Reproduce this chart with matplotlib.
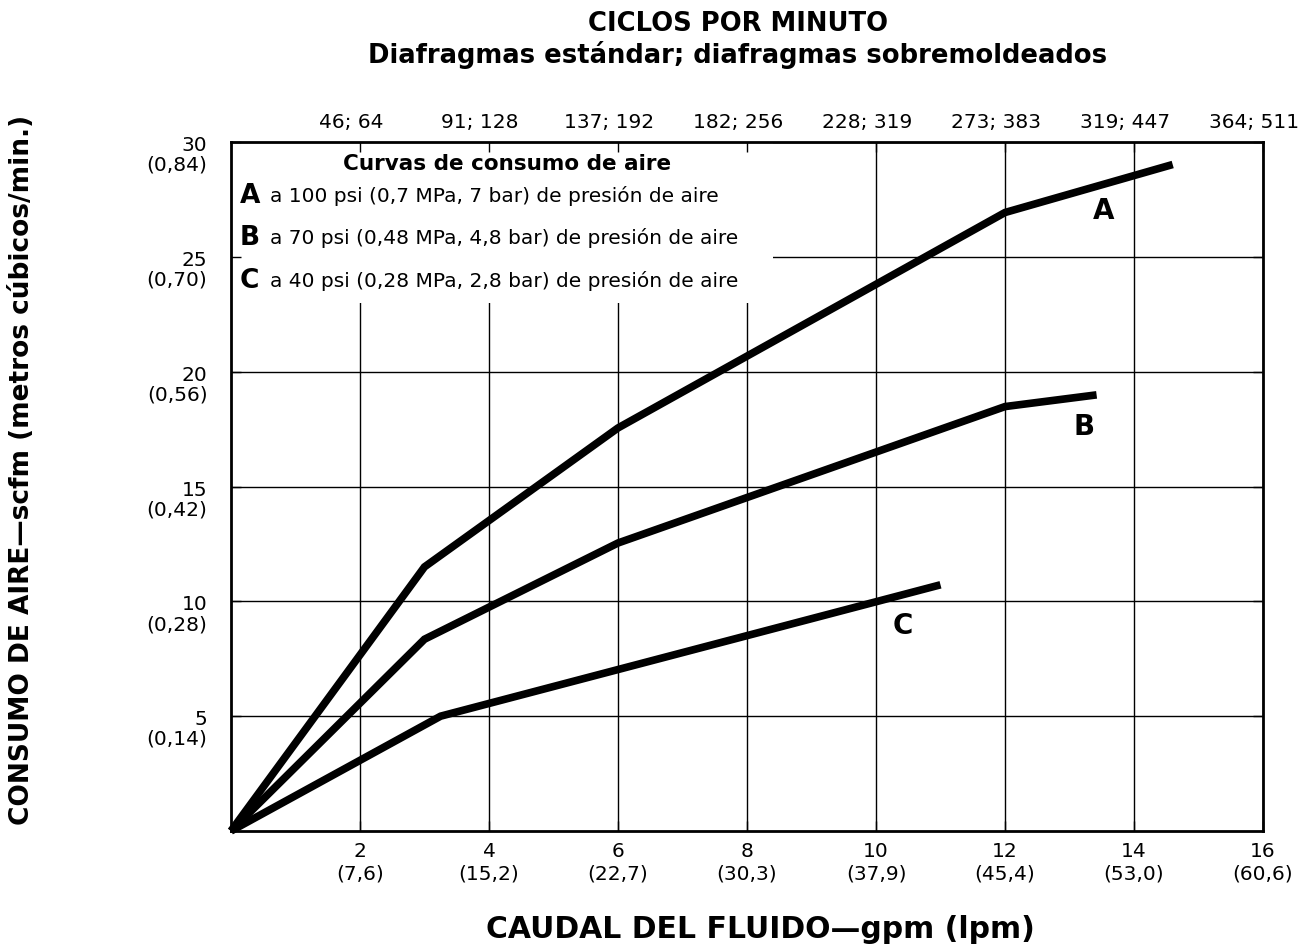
import matplotlib
matplotlib.use("Agg")
import matplotlib.pyplot as plt
from matplotlib.patches import Rectangle
from matplotlib.transforms import ScaledTranslation

plt.rcParams['font.family'] = ['DejaVu Sans']

# ---- data ----
curve_a_x = [0, 3.0, 6.0, 12.0, 14.6]
curve_a_y = [0, 11.5, 17.55, 26.93, 29.02]
curve_b_x = [0, 3.0, 6.0, 12.0, 13.42]
curve_b_y = [0, 8.35, 12.54, 18.48, 18.99]
curve_c_x = [0, 3.25, 11.0]
curve_c_y = [0, 5.0, 10.72]

x_ticks = [2, 4, 6, 8, 10, 12, 14, 16]
x_labels = ['2\n(7,6)', '4\n(15,2)', '6\n(22,7)', '8\n(30,3)', '10\n(37,9)',
            '12\n(45,4)', '14\n(53,0)', '16\n(60,6)']
top_labels = ['46; 64', '91; 128', '137; 192', '182; 256', '228; 319',
              '273; 383', '319; 447', '364; 511']
y_ticks = [5, 10, 15, 20, 25, 30]
y_labels = ['5\n(0,14)', '10\n(0,28)', '15\n(0,42)', '20\n(0,56)',
            '25\n(0,70)', '30\n(0,84)']

legend_title = 'Curvas de consumo de aire'
legend_letters = ['A', 'B', 'C']
legend_texts = ['a 100 psi (0,7 MPa, 7 bar) de presión de aire',
                'a 70 psi (0,48 MPa, 4,8 bar) de presión de aire',
                'a 40 psi (0,28 MPa, 2,8 bar) de presión de aire']

fig = plt.figure(figsize=(13.16, 9.52), dpi=100)
ax = fig.add_axes([231/1316, 1-831/952, (1263-231)/1316, (831-142)/952])
ax.set_xlim(0, 16)
ax.set_ylim(0, 30)

# grid (drawn manually below the legend box)
ax.vlines(x_ticks, 0, 30, colors='black', linewidth=1.0, zorder=0.5)
ax.hlines(y_ticks, 0, 16, colors='black', linewidth=1.0, zorder=0.5)

# legend box
ax.add_patch(Rectangle((0, 23.0), 8.4, 7.0, facecolor='white', edgecolor='none', zorder=1))

for xs, ys in [(curve_a_x, curve_a_y), (curve_b_x, curve_b_y), (curve_c_x, curve_c_y)]:
    ax.plot(xs, ys, color='black', linewidth=5.5, solid_capstyle='butt',
            solid_joinstyle='miter', zorder=3, clip_on=False)

# curve labels
for lab, (lx, ly) in zip(legend_letters, [(13.53, 27.0), (13.23, 17.6), (10.42, 8.91)]):
    ax.text(lx, ly, lab, fontsize=20, fontweight='bold', ha='center', va='center', zorder=4)

# legend text
ax.text(4.28, 29.05, legend_title, fontsize=15.5, fontweight='bold', ha='center', va='center', zorder=4)
for lab, txt, ly in zip(legend_letters, legend_texts, [27.66, 25.83, 23.93]):
    ax.text(0.14, ly, lab, fontsize=19, fontweight='bold', ha='left', va='center', zorder=4)
    ax.text(0.60, ly, txt, fontsize=14.5, ha='left', va='center', zorder=4)

# axes styling
for sp in ax.spines.values():
    sp.set_linewidth(2.0)
    sp.set_zorder(5)
ax.set_xticks(x_ticks)
ax.set_xticklabels(x_labels, fontsize=14.5, linespacing=1.2)
ax.set_yticks(y_ticks)
ax.set_yticklabels(y_labels, fontsize=14.5, linespacing=1.05)
ax.tick_params(axis='both', direction='in', length=7.2, width=1.0,
               top=True, right=True)
ax.tick_params(axis='x', pad=8)
ax.tick_params(axis='y', pad=17)
for lbl in ax.get_yticklabels():
    lbl.set_transform(lbl.get_transform() + ScaledTranslation(0, -0.11, fig.dpi_scale_trans))

sec = ax.secondary_xaxis('top')
sec.set_xticks(x_ticks)
sec.set_xticklabels(top_labels, fontsize=14.5)
sec.tick_params(length=0, pad=7)
sec.spines['top'].set_visible(False)
for lbl in sec.get_xticklabels():
    lbl.set_transform(lbl.get_transform() + ScaledTranslation(-0.09, 0, fig.dpi_scale_trans))

# axis titles
fig.text(738/1316, 1-31/952, 'CICLOS POR MINUTO', fontsize=18.6,
         fontweight='bold', ha='center', va='baseline')
fig.text(738/1316, 1-63/952, 'Diafragmas estándar; diafragmas sobremoldeados',
         fontsize=18.6, fontweight='bold', ha='center', va='baseline')
fig.text(760/1316, 1-929/952, 'CAUDAL DEL FLUIDO—gpm (lpm)', fontsize=21.5,
         fontweight='bold', ha='center', va='center')
fig.text(22/1316, 1-470/952, 'CONSUMO DE AIRE—scfm (metros cúbicos/min.)', fontsize=19,
         fontweight='bold', ha='center', va='center', rotation=90)

fig.savefig('out.png', dpi=100)
